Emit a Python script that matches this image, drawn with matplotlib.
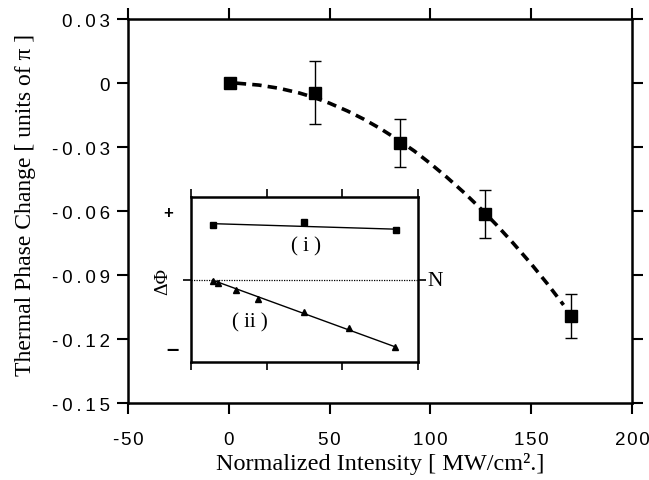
import matplotlib
matplotlib.use("Agg")
import matplotlib.pyplot as plt

plt.rcParams["axes.unicode_minus"] = False

# main data: thermal phase change vs normalized intensity
intensity = [0.5, 42.7, 85.0, 127.0, 169.5]
phase = [0.0, -0.0044, -0.0282, -0.0612, -0.1092]
phase_err = [0.0, 0.0146, 0.0113, 0.0113, 0.0105]

# dashed guide curve
curve_x = [4, 15, 25, 35, 42, 50, 59, 67, 75, 84, 92, 100, 108, 117, 125, 133, 141, 150, 158, 166]
curve_y = [0.0, -0.0009, -0.0024, -0.0046, -0.0066, -0.0094, -0.0131, -0.0169, -0.0212, -0.0266,
           -0.0318, -0.0377, -0.0440, -0.0516, -0.0589, -0.0667, -0.0750, -0.0848, -0.0941, -0.1040]

# inset (arbitrary units)
i_x = [0.295, 1.49, 2.705]
i_y = [0.553, 0.58, 0.50]
i_line_x = [0.295, 2.705]
i_line_y = [0.565, 0.51]
ii_x = [0.287, 0.353, 0.595, 0.885, 1.49, 2.09, 2.70]
ii_y = [-0.007, -0.03, -0.10, -0.19, -0.323, -0.477, -0.667]
ii_line_x = [0.287, 2.70]
ii_line_y = [0.0, -0.667]

xticks = [-50, 0, 50, 100, 150, 200]
xtick_labels = ["-50", "0", "50", "100", "150", "200"]
yticks = [0.03, 0, -0.03, -0.06, -0.09, -0.12, -0.15]
ytick_labels = ["0.03", "0", "-0.03", "-0.06", "-0.09", "-0.12", "-0.15"]

sans = ["Liberation Sans", "DejaVu Sans"]
serif = ["Liberation Serif", "DejaVu Serif"]


def spaced(s, gap):
    # the original tick labels are set with loose letter spacing
    return gap.join(s)


fig = plt.figure(figsize=(6.49, 4.81), dpi=100)
ax = fig.add_axes([0.197, 0.160, 0.777, 0.798])

ax.plot(curve_x, curve_y, color="black", lw=2.6, linestyle=(0, (2.6, 1.7)))
ax.errorbar(intensity[1:], phase[1:], yerr=phase_err[1:], fmt="none", ecolor="black",
            elinewidth=1.0, capsize=4, capthick=1.0)
ax.plot(intensity, phase, "s", color="black", ms=8.5)

ax.set_xlim(-50, 200)
ax.set_ylim(-0.15, 0.03)
ax.set_xticks(xticks)
ax.set_xticklabels([spaced(t, "\u200a") for t in xtick_labels])
ax.set_yticks(yticks)
ax.set_yticklabels([spaced(t, "\u2009") for t in ytick_labels])
for lab in ax.get_xticklabels() + ax.get_yticklabels():
    lab.set_family(sans)
    lab.set_fontsize(13.5)
ax.tick_params(direction="out", length=8, width=1.5, top=True, right=True, pad=5)
ax.tick_params(axis="x", pad=12)
for s in ax.spines.values():
    s.set_linewidth(1.8)

ax.set_xlabel("Normalized Intensity [ MW/cm\u00b2.]", family=serif, fontsize=17.5, labelpad=3)
ax.set_ylabel("Thermal Phase Change [ units of \u03c0 ]", family=serif, fontsize=17)
ax.yaxis.set_label_coords(-0.182, 0.52)

# inset
ins = fig.add_axes([0.294, 0.245, 0.350, 0.343])
ins.plot(i_line_x, i_line_y, color="black", lw=1.0)
ins.plot(i_x, i_y, "s", color="black", ms=4)
ins.plot(ii_line_x, ii_line_y, color="black", lw=1.0)
ins.plot(ii_x, ii_y, "^", color="black", ms=5)
ins.axhline(0, color="black", lw=0.9, linestyle=(0, (1, 1)))
ins.set_xlim(0, 3)
ins.set_ylim(-0.82, 0.83)
ins.set_xticks([0, 1, 2, 3])
ins.set_yticks([0])
ins.tick_params(direction="out", length=6, width=1.2, top=True, right=True,
                labelbottom=False, labelleft=False)
for s in ins.spines.values():
    s.set_linewidth(1.8)

ins.text(1.52, 0.34, "( i )", family=serif, fontsize=15, ha="center", va="center")
ins.text(0.78, -0.42, "( ii )", family=serif, fontsize=15, ha="center", va="center")
ins.text(3.23, 0.0, "N", family=serif, fontsize=15.5, ha="center", va="center")
ins.text(-0.3, 0.68, "+", family=sans, fontsize=12, fontweight="bold", ha="center", va="center")
ins.text(-0.24, -0.69, "\u2013", family=sans, fontsize=16, fontweight="bold", ha="center", va="center")
ins.text(-0.37, 0.0, "\u0394\u03a6", family=serif, fontsize=14, rotation=90, ha="center", va="center")

fig.savefig("out.png", dpi=100)
